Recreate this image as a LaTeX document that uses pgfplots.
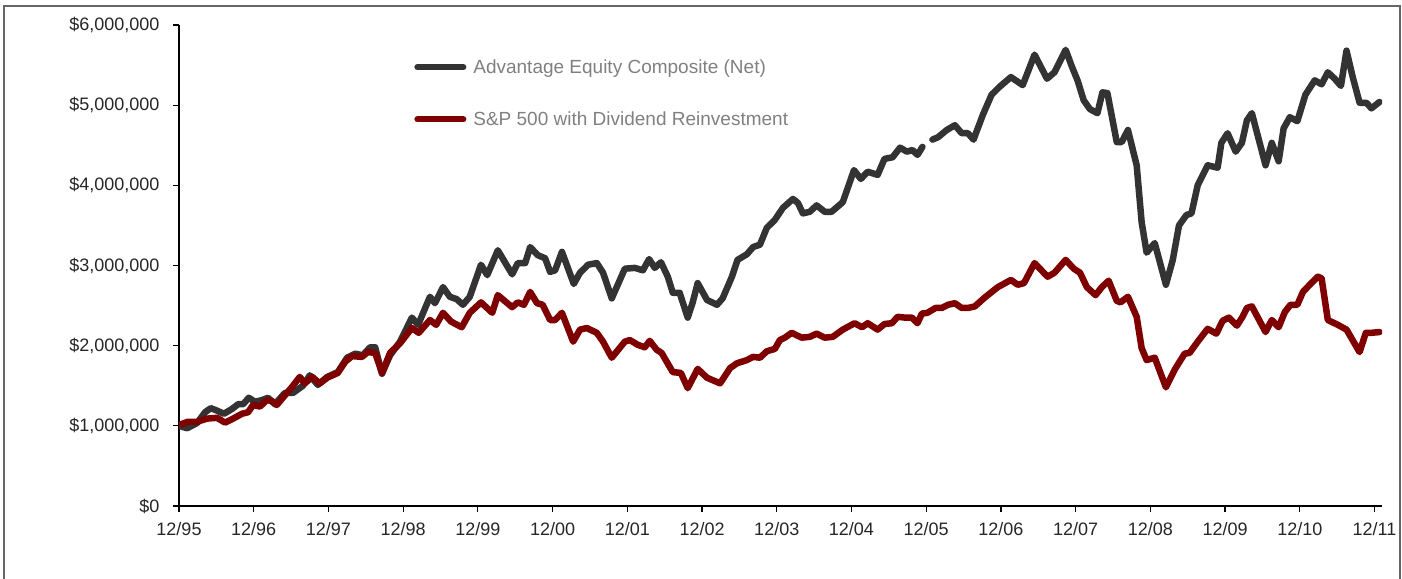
\documentclass[border=0pt]{standalone}
\usepackage{fontspec}
\setmainfont{Liberation Sans}
\usepackage{pgfplots}
\pgfplotsset{compat=1.18}
\definecolor{eqgray}{HTML}{333333}
\definecolor{spred}{HTML}{7F0000}
\definecolor{legtext}{HTML}{808080}
\begin{document}
\begin{tikzpicture}[x=1pt,y=1pt]
\useasboundingbox (0,0) rectangle (1402,578);
\draw[black!60, line width=1.5pt] (4,-2) -- (4,572) -- (1400,572) -- (1400,-2);
\begin{axis}[at={(179pt,72pt)}, anchor=south west, scale only axis,
  width=1203pt, height=481pt,
  xmin=0, xmax=193.2, ymin=0, ymax=6000000,
  scaled y ticks=false,
  axis lines=left,
  x axis line style={-, line width=2.5pt},
  y axis line style={-, line width=1.3pt},
  tick align=outside, major tick length=6pt,
  tick style={black, line width=1.2pt},
  xtick={0,12,...,192},
  xticklabels={12/95,12/96,12/97,12/98,12/99,12/00,12/01,12/02,12/03,12/04,12/05,12/06,12/07,12/08,12/09,12/10,12/11},
  ytick={0,1000000,2000000,3000000,4000000,5000000,6000000},
  yticklabels={{\$0},{\$1,000,000},{\$2,000,000},{\$3,000,000},{\$4,000,000},{\$5,000,000},{\$6,000,000}},
  ticklabel style={font=\fontsize{18}{21}\selectfont, text=black!85},
  xticklabel style={yshift=-7pt},
  yticklabel style={xshift=-10pt},
  unbounded coords=jump,
  legend style={at={(0.193,0.937)}, anchor=north west, draw=none, fill=none,
    font=\fontsize{19}{22}\selectfont, text=legtext, row sep=33pt,
    /tikz/every odd column/.append style={column sep=5pt}},
  legend cell align=left,
  legend image code/.code={\draw[#1, line width=6pt, line cap=round] (0pt,0pt) -- (46pt,0pt);},
  every axis plot/.append style={line width=6.5pt, line join=round, line cap=round},
]
\addplot[eqgray] coordinates {
(0,1000000) (1.3,970000) (2.9,1035000) (4.2,1170000) (5.1,1220000) (6.1,1190000)
(7.2,1150000) (8.5,1210000) (9.5,1270000) (10.3,1270000) (11.2,1350000) (12.2,1300000)
(13.3,1320000) (14.3,1350000) (15.4,1270000) (17.0,1410000) (18.3,1410000) (19.9,1500000)
(21.0,1630000) (22.3,1510000) (23.8,1610000) (25.5,1670000) (27.0,1850000) (28.3,1900000)
(29.5,1880000) (30.7,1980000) (31.5,1980000) (32.6,1650000) (33.9,1880000) (35.5,2050000)
(37.4,2350000) (38.4,2260000) (40.3,2610000) (41.1,2530000) (42.4,2730000) (43.5,2610000)
(44.6,2580000) (45.6,2510000) (46.7,2610000) (48.5,3010000) (49.5,2880000) (51.2,3190000)
(53.5,2890000) (54.4,3030000) (55.6,3030000) (56.4,3230000) (57.6,3130000) (58.8,3090000)
(59.6,2920000) (60.4,2940000) (61.5,3170000) (63.4,2770000) (64.4,2910000) (65.2,2970000)
(65.7,3010000) (67.1,3030000) (68.1,2910000) (69.5,2590000) (71.6,2960000) (73.2,2970000)
(74.5,2940000) (75.5,3080000) (76.4,2970000) (77.4,3040000) (78.5,2860000) (79.3,2660000)
(80.4,2660000) (81.7,2350000) (82.5,2540000) (83.3,2780000) (84.8,2570000) (86.4,2510000)
(87.3,2590000) (88.8,2860000) (89.7,3070000) (91.2,3140000) (92.2,3230000) (93.3,3260000)
(94.4,3470000) (95.7,3570000) (97.0,3720000) (98.6,3830000) (99.4,3780000) (100.2,3650000)
(101.3,3670000) (102.4,3750000) (103.7,3670000) (104.8,3670000) (106.6,3790000) (108.4,4190000)
(109.5,4080000) (110.6,4170000) (112.2,4130000) (113.3,4330000) (114.6,4350000) (115.8,4470000)
(116.9,4420000) (117.8,4440000) (118.6,4380000) (119.4,4480000) (120.2,nan)
(121.0,4570000) (121.9,4600000) (123.3,4690000) (124.6,4750000) (125.7,4650000) (126.7,4650000)
(127.6,4570000) (129.1,4880000) (130.5,5130000) (131.8,5230000) (133.6,5350000) (135.5,5250000)
(137.4,5630000) (139.4,5330000) (140.6,5410000) (142.4,5690000) (143.4,5480000) (144.3,5310000)
(145.3,5060000) (146.3,4950000) (147.5,4900000) (148.3,5160000) (149.1,5150000) (150.6,4540000)
(151.4,4540000) (152.4,4690000) (153.8,4250000) (154.6,3540000) (155.4,3160000) (156.7,3280000)
(158.5,2760000) (159.6,3070000) (160.6,3500000) (161.8,3630000) (162.6,3650000) (163.6,4000000)
(165.2,4250000) (166.8,4220000) (167.4,4530000) (168.4,4650000) (169.7,4420000) (170.7,4530000)
(171.5,4810000) (172.3,4900000) (174.5,4250000) (175.5,4530000) (176.6,4300000) (177.4,4710000)
(178.4,4850000) (179.6,4800000) (180.9,5130000) (182.4,5310000) (183.5,5260000) (184.5,5410000)
(185.6,5330000) (186.6,5240000) (187.5,5680000) (188.5,5350000) (189.6,5030000) (190.7,5030000)
(191.5,4960000) (192.8,5040000)
};
\addlegendentry{Advantage Equity Composite (Net)}
\addplot[spred] coordinates {
(0,1010000) (1.4,1050000) (2.9,1050000) (4.5,1090000) (6.1,1100000) (7.4,1040000)
(8.7,1090000) (10.1,1150000) (11.1,1170000) (11.9,1260000) (13.0,1240000) (14.1,1320000)
(14.9,1310000) (15.7,1260000) (17.0,1380000) (18.1,1480000) (19.4,1610000) (20.2,1530000)
(21.4,1610000) (22.6,1530000) (23.8,1600000) (25.5,1660000) (26.7,1800000) (27.8,1870000)
(29.4,1860000) (30.3,1920000) (31.5,1910000) (32.6,1660000) (33.9,1910000) (35.5,2030000)
(37.4,2220000) (38.5,2160000) (40.3,2320000) (41.3,2260000) (42.4,2410000) (43.7,2300000)
(45.4,2230000) (46.7,2410000) (48.5,2540000) (50.3,2410000) (51.2,2630000) (53.5,2480000)
(54.4,2540000) (55.4,2510000) (56.4,2670000) (57.5,2530000) (58.4,2510000) (59.6,2320000)
(60.4,2320000) (61.5,2410000) (63.3,2050000) (64.4,2200000) (65.5,2220000) (67.1,2160000)
(68.1,2050000) (69.5,1850000) (71.6,2050000) (72.4,2070000) (73.7,2010000) (74.8,1980000)
(75.6,2060000) (76.7,1950000) (77.5,1910000) (79.3,1670000) (80.6,1660000) (81.7,1470000)
(83.3,1710000) (84.8,1600000) (86.9,1530000) (88.5,1720000) (89.6,1780000) (91.2,1820000)
(92.2,1860000) (93.3,1850000) (94.4,1930000) (95.7,1960000) (96.5,2070000) (97.3,2100000)
(98.4,2160000) (100.0,2100000) (101.3,2110000) (102.4,2150000) (103.7,2100000) (105.0,2110000)
(106.6,2200000) (108.5,2280000) (109.7,2230000) (110.6,2280000) (112.2,2200000) (113.3,2270000)
(114.5,2280000) (115.4,2360000) (116.6,2350000) (117.7,2350000) (118.6,2280000) (119.3,2400000)
(120.2,2410000) (121.5,2470000) (122.5,2470000) (123.5,2510000) (124.6,2530000) (125.7,2470000)
(126.7,2470000) (127.8,2490000) (129.4,2600000) (131.5,2730000) (133.6,2820000) (134.7,2760000)
(135.7,2780000) (137.4,3030000) (139.5,2860000) (140.6,2910000) (142.4,3070000) (143.7,2960000)
(144.7,2910000) (145.8,2730000) (147.2,2630000) (148.2,2730000) (149.3,2810000) (150.6,2560000)
(151.2,2540000) (152.4,2610000) (153.8,2360000) (154.6,1970000) (155.4,1820000) (156.7,1850000)
(158.5,1480000) (159.9,1700000) (161.5,1900000) (162.3,1910000) (163.6,2050000) (165.2,2210000)
(166.6,2150000) (167.6,2310000) (168.6,2350000) (169.9,2250000) (170.8,2360000) (171.5,2470000)
(172.3,2490000) (174.5,2170000) (175.5,2320000) (176.6,2230000) (177.6,2420000) (178.5,2510000)
(179.6,2510000) (180.5,2670000) (181.6,2760000) (182.9,2860000) (183.5,2840000) (184.5,2320000)
(186.1,2260000) (187.5,2200000) (189.6,1920000) (190.6,2160000) (191.5,2160000) (192.8,2170000)
};
\addlegendentry{S\&P 500 with Dividend Reinvestment}
\end{axis}
\end{tikzpicture}
\end{document}
